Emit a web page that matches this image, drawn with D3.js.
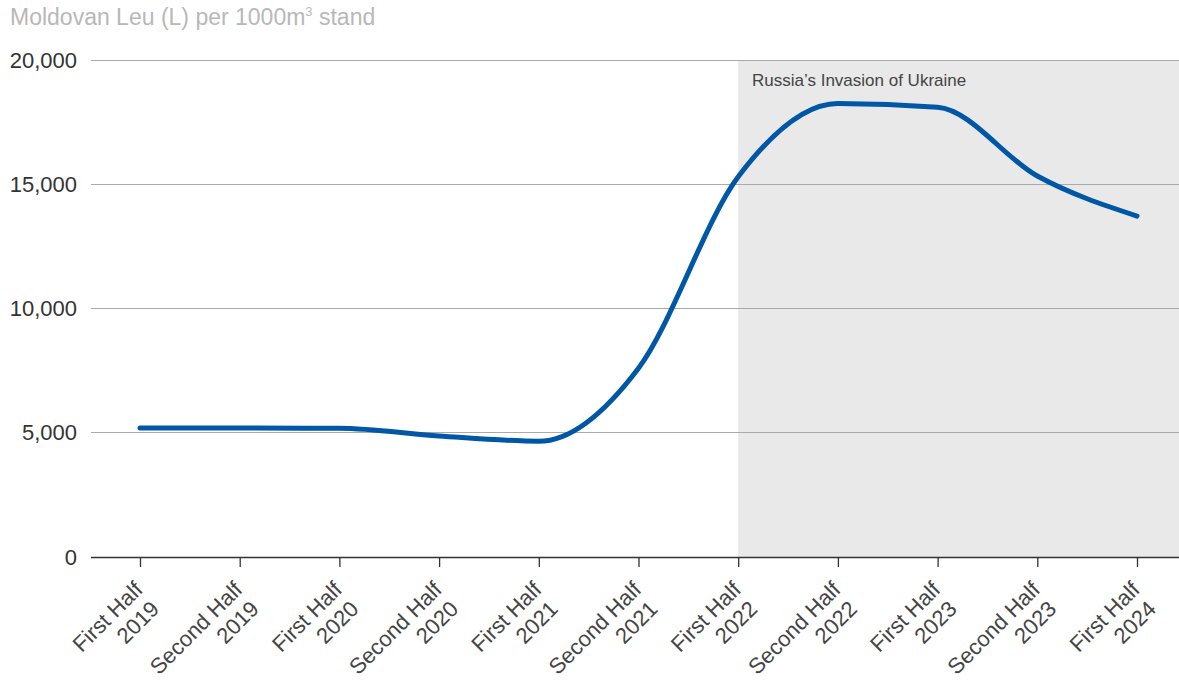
<!DOCTYPE html>
<html><head><meta charset="utf-8">
<script src="https://cdn.jsdelivr.net/npm/d3@7"></script>
<style>body{margin:0;background:#fff;} svg{display:block;}</style>
</head><body>
<svg id="c" width="1179" height="683"></svg>
<script>
const categories = [
  ["First Half","2019"],["Second Half","2019"],["First Half","2020"],["Second Half","2020"],
  ["First Half","2021"],["Second Half","2021"],["First Half","2022"],["Second Half","2022"],
  ["First Half","2023"],["Second Half","2023"],["First Half","2024"]
];
const values = [5190, 5190, 5180, 4870, 4660, 7600, 15300, 18250, 18100, 15330, 13720];
const yTicks = [0, 5000, 10000, 15000, 20000];
const titleMain = "Moldovan Leu (L) per 1000m";
const titleSup = "3";
const titleEnd = " stand";
const shadeLabel = "Russia\u2019s Invasion of Ukraine";
const shadeStartIndex = 6;

(function(){
const svg = d3.select("#c");
const font = "'Liberation Sans', Arial, sans-serif";
const pL = 91, pR = 1179, pT = 60, pB = 557;
const keys = categories.map((d,i)=>i);
const x = d3.scalePoint().domain(keys).range([140, 1137]);
const y = d3.scaleLinear().domain([0, 20000]).range([pB, pT]);

const t = svg.append("text").attr("x", 10).attr("y", 25).attr("font-family", font)
  .attr("font-size", 23).attr("fill", "#b8b8b8");
t.append("tspan").text(titleMain);
t.append("tspan").attr("font-size", 13).attr("dy", -9).text(titleSup);
t.append("tspan").attr("dy", 9).text(titleEnd);

svg.append("rect").attr("x", x(shadeStartIndex)).attr("y", pT)
  .attr("width", pR - x(shadeStartIndex)).attr("height", pB - pT).attr("fill", "#e9e9e9");

svg.append("g").selectAll("line").data(yTicks.filter(d=>d>0)).join("line")
  .attr("x1", pL).attr("x2", pR).attr("y1", d=>y(d)).attr("y2", d=>y(d))
  .attr("stroke", "#aaaaaa").attr("stroke-width", 1).attr("shape-rendering","crispEdges");

svg.append("g").selectAll("text").data(yTicks).join("text")
  .attr("x", 77).attr("y", d=>y(d)).attr("dy", "0.35em").attr("text-anchor", "end")
  .attr("font-family", font).attr("font-size", 22).attr("fill", "#333")
  .text(d=>d3.format(",")(d));

svg.append("text").attr("x", 752).attr("y", 86).attr("font-family", font)
  .attr("font-size", 17).attr("fill", "#444").text(shadeLabel);

const xAxis = d3.axisBottom(x).tickSize(10).tickFormat("");
const gx = svg.append("g").attr("transform", `translate(0,${pB})`).call(xAxis);
gx.select(".domain").attr("d", `M${pL},0.5H${pR}`).attr("stroke", "#333").attr("stroke-width", 1.5);
gx.selectAll(".tick line").attr("stroke", "#333").attr("stroke-width", 1.3);

const lab = svg.append("g").selectAll("g").data(keys).join("g")
  .attr("transform", d=>`translate(${x(d)+4},${pB+34}) rotate(-45)`);
lab.append("text").attr("text-anchor","end").attr("font-family", font).attr("font-size", 22)
  .attr("fill", "#444").text(d=>categories[d][0]);
lab.append("text").attr("text-anchor","end").attr("font-family", font).attr("font-size", 22)
  .attr("fill", "#444").attr("x", -2).attr("dy", "1.15em").text(d=>categories[d][1]);

const line = d3.line().x((d,i)=>x(i)).y(d=>y(d)).curve(d3.curveMonotoneX);
svg.append("path").datum(values).attr("d", line).attr("fill", "none")
  .attr("stroke", "#0057a6").attr("stroke-width", 5).attr("stroke-linecap", "round");
})();
</script>
</body></html>
